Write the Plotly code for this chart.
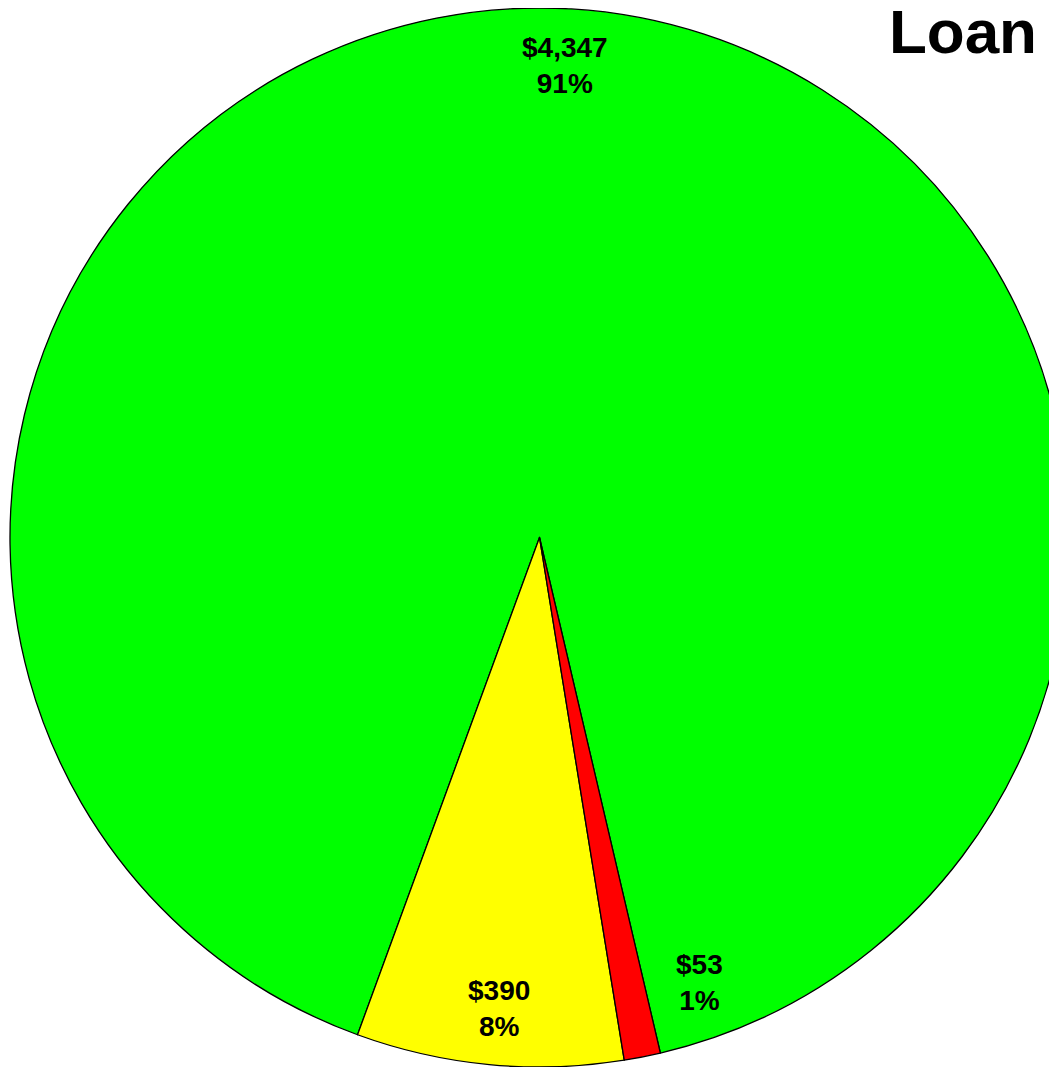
import math
import plotly.graph_objects as go

labels = ["Green", "Yellow", "Red"]
values = [4347, 390, 53]
colors = ["#00FF00", "#FFFF00", "#FF0000"]
title_text = "Loan"

# layout / style constants
ROTATION = 200.1          # degrees, counterclockwise drawing
FIG_W, FIG_H = 1061, 1059
MARGIN = dict(l=2, r=0, t=0, b=0)
LABEL_R = 0.893           # label radius as a fraction of the pie radius
LABEL_NUDGE = [-0.4, -0.5, -8.6]   # angular nudge (deg) per label
FONT = "Liberation Sans, Arial, Helvetica, sans-serif"

fig = go.Figure(go.Pie(
    labels=labels,
    values=values,
    sort=False,
    direction="counterclockwise",
    rotation=ROTATION,
    marker=dict(colors=colors, line=dict(color="black", width=1.3)),
    textinfo="none",
    showlegend=False,
    hoverinfo="skip",
))

total = sum(values)
w = FIG_W - MARGIN["l"] - MARGIN["r"]
h = FIG_H - MARGIN["t"] - MARGIN["b"]
R = min(w, h) / 2.0
annotations = []
start = ROTATION
for i, v in enumerate(values):
    a = v / total * 360.0
    if i == 0:
        mid = ROTATION + a / 2.0
    else:
        mid = start - a / 2.0
        start -= a
    mid += LABEL_NUDGE[i]
    th = math.radians(mid)
    xp = 0.5 + LABEL_R * R * math.sin(th) / w
    yp = 0.5 + LABEL_R * R * math.cos(th) / h
    pct = round(v / total * 100)
    annotations.append(dict(
        x=xp, y=yp, xref="paper", yref="paper",
        xanchor="center", yanchor="middle", showarrow=False,
        text=f"<b>${v:,}</b><br><b>{pct}%</b>",
        font=dict(family=FONT, size=28, color="black"),
        align="center",
    ))

fig.update_layout(
    width=FIG_W, height=FIG_H,
    margin=MARGIN,
    paper_bgcolor="white",
    annotations=annotations,
    title=dict(
        text="<b>" + title_text + "</b>",
        font=dict(family=FONT, size=62, color="black"),
        xref="container", yref="container",
        x=1029 / FIG_W, xanchor="right",
        y=1 - 2 / FIG_H, yanchor="top",
        pad=dict(t=0, r=0, b=0, l=0),
    ),
)

fig.write_html("out.html")
